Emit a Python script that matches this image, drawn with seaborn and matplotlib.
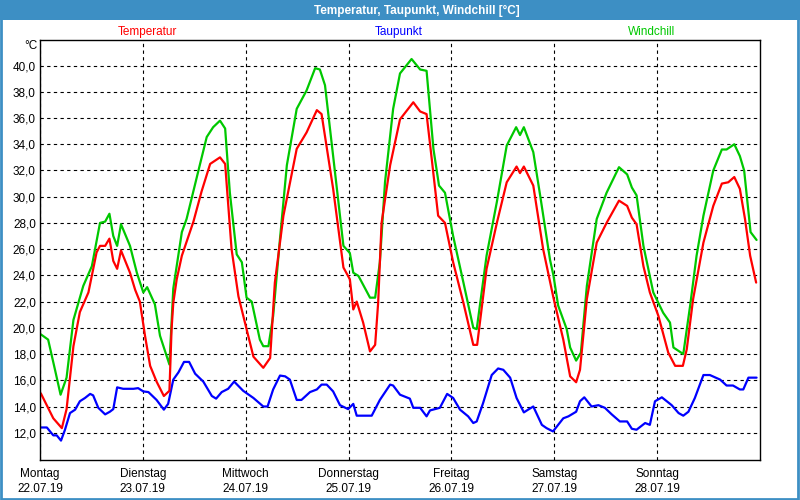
import matplotlib
matplotlib.use("Agg")
import matplotlib.pyplot as plt
import seaborn as sns
import pandas as pd
from matplotlib.patches import Rectangle

# ---------------- data (hours since Mon 22.07.19 00:00) ----------------
temp_hours = [0.2, 3.1, 5.1, 6.2, 7.8, 9.3, 11.3, 13.2, 14.0, 15.2, 16.2, 17.1, 18.0, 18.9,
              21.0, 22.2, 23.3, 24.5, 25.7, 27.2, 28.9, 30.2, 30.7, 31.1, 31.9, 33.1, 35.8,
              37.7, 39.7, 42.0, 43.2, 44.7, 46.3, 48.2, 49.8, 52.1, 53.7, 54.8, 56.8, 59.9,
              62.2, 64.6, 65.7, 68.4, 70.8, 72.3, 73.1, 73.9, 75.4, 77.0, 78.2, 78.9, 79.7,
              81.7, 84.0, 87.1, 88.7, 90.2, 91.4, 92.9, 94.5, 96.4, 98.8, 101.1, 102.0,
              104.2, 106.6, 108.9, 111.2, 112.0, 112.9, 115.1, 117.4, 119.8, 122.1, 123.7,
              125.1, 126.0, 127.6, 129.9, 132.2, 135.1, 137.0, 138.1, 139.2, 140.8, 142.3,
              144.3, 146.6, 148.2, 150.0, 150.9, 152.4, 154.8, 157.1, 159.1, 160.6, 162.0,
              163.3, 164.5, 165.7, 167.1]
temp_values = [15.0, 13.1, 12.35, 13.8, 18.6, 21.2, 22.7, 25.75, 26.25, 26.25, 26.8, 25.1,
               24.5, 25.9, 24.2, 22.9, 22.0, 19.4, 17.1, 15.9, 14.8, 15.2, 19.9, 21.9, 23.7,
               25.5, 28.1, 30.4, 32.5, 33.0, 32.5, 26.0, 22.4, 19.9, 17.8, 16.95, 17.7, 23.45,
               28.55, 33.65, 34.9, 36.6, 36.3, 30.6, 24.6, 23.7, 21.4, 22.0, 20.4, 18.2, 18.7,
               21.9, 28.0, 32.4, 35.9, 37.2, 36.5, 36.3, 32.9, 28.55, 28.0, 25.0, 21.9, 18.7,
               18.7, 24.5, 28.0, 31.1, 32.3, 31.8, 32.3, 30.85, 26.0, 22.3, 19.1, 16.3, 15.85,
               16.8, 22.2, 26.5, 28.0, 29.7, 29.3, 28.4, 27.9, 24.7, 22.7, 20.9, 18.1, 17.1,
               17.1, 18.35, 22.2, 26.5, 29.3, 31.0, 31.1, 31.5, 30.6, 28.3, 25.5, 23.45]

dew_hours = [0.2, 1.6, 3.1, 3.9, 4.9, 5.8, 7.0, 8.2, 9.3, 10.5, 11.7, 12.4, 13.6, 15.2, 16.3,
             17.1, 18.0, 19.4, 21.8, 22.9, 24.1, 25.3, 27.2, 28.9, 29.9, 31.1, 32.3, 33.6,
             34.8, 36.2, 38.1, 40.1, 41.1, 42.4, 43.9, 45.3, 47.4, 49.8, 52.1, 53.1, 54.4,
             56.0, 57.2, 58.3, 59.9, 61.0, 63.0, 64.6, 65.7, 66.9, 68.4, 70.0, 71.9, 73.1,
             73.9, 77.4, 79.3, 81.7, 82.4, 84.0, 86.3, 87.1, 88.7, 90.2, 91.0, 93.3, 95.0,
             96.4, 98.0, 99.9, 101.1, 101.9, 103.4, 105.4, 106.9, 108.1, 109.7, 111.2, 112.9,
             113.9, 115.1, 117.1, 118.2, 119.7, 120.9, 122.1, 123.3, 125.1, 126.0, 127.0,
             128.7, 130.3, 131.8, 133.4, 135.3, 137.0, 138.1, 139.2, 141.2, 142.3, 143.5,
             145.1, 147.4, 149.0, 150.1, 151.3, 152.8, 154.8, 156.3, 158.7, 160.2, 161.7,
             163.3, 164.1, 165.3, 167.2]
dew_values = [12.4, 12.4, 11.8, 11.8, 11.4, 12.2, 13.5, 13.76, 14.4, 14.65, 14.96, 14.85,
              13.9, 13.4, 13.6, 13.8, 15.46, 15.35, 15.35, 15.4, 15.15, 15.1, 14.5, 13.76,
              14.2, 16.05, 16.6, 17.4, 17.4, 16.5, 15.9, 14.8, 14.6, 15.1, 15.35, 15.9, 15.2,
              14.65, 14.0, 14.0, 15.3, 16.36, 16.3, 16.05, 14.5, 14.5, 15.1, 15.3, 15.67,
              15.67, 15.15, 14.1, 13.8, 14.2, 13.3, 13.3, 14.5, 15.67, 15.6, 14.9, 14.6, 13.9,
              13.9, 13.25, 13.7, 13.9, 14.96, 14.65, 13.76, 13.25, 12.74, 12.86, 14.27, 16.4,
              16.9, 16.8, 16.2, 14.65, 13.55, 13.76, 14.0, 12.6, 12.35, 12.1, 12.6, 13.1,
              13.25, 13.6, 14.4, 14.7, 14.0, 14.1, 13.9, 13.4, 12.86, 12.86, 12.3, 12.23,
              12.74, 12.6, 14.4, 14.7, 14.1, 13.5, 13.3, 13.6, 14.65, 16.4, 16.4, 16.05, 15.6,
              15.6, 15.3, 15.3, 16.2, 16.2]

wind_hours = [0.2, 1.9, 3.5, 4.8, 6.2, 7.8, 10.1, 12.1, 14.0, 15.2, 16.2, 17.1, 18.0, 18.9,
              21.0, 22.6, 24.1, 25.0, 26.8, 28.0, 30.2, 31.1, 33.1, 34.2, 36.9, 38.9, 40.4,
              42.0, 43.2, 44.3, 45.9, 47.1, 48.2, 49.4, 51.3, 52.1, 53.3, 54.4, 56.0, 57.6,
              59.9, 62.2, 64.2, 65.3, 66.5, 68.4, 70.8, 72.3, 73.1, 74.3, 77.0, 78.2, 79.3,
              80.5, 82.4, 84.0, 86.7, 88.7, 90.2, 91.8, 93.1, 94.5, 96.4, 98.8, 101.1, 101.9,
              104.2, 106.6, 108.9, 111.1, 112.0, 112.9, 115.1, 116.7, 119.0, 119.8, 120.9,
              122.9, 123.7, 125.1, 126.2, 127.6, 129.9, 132.2, 135.1, 137.0, 138.1, 139.2,
              140.8, 143.1, 145.4, 147.0, 147.8, 150.1, 151.7, 153.2, 154.8, 157.1, 159.1,
              160.2, 162.0, 163.3, 164.3, 165.8, 167.2]
wind_values = [19.5, 19.1, 16.8, 14.9, 16.2, 20.6, 23.2, 24.7, 28.0, 28.1, 28.7, 27.0, 26.25,
               27.9, 26.25, 24.2, 22.7, 23.1, 21.8, 19.4, 17.2, 23.0, 27.3, 28.3, 31.9, 34.55,
               35.3, 35.8, 35.2, 30.3, 25.6, 25.0, 22.3, 22.0, 19.1, 18.6, 18.6, 20.9, 26.8,
               32.4, 36.7, 38.1, 39.8, 39.7, 38.5, 33.1, 26.25, 25.7, 24.2, 23.96, 22.3, 22.3,
               25.0, 31.1, 36.7, 39.4, 40.5, 39.7, 39.6, 33.65, 30.85, 30.3, 27.0, 23.45, 20.0,
               19.9, 25.5, 29.6, 33.9, 35.3, 34.7, 35.3, 33.4, 30.1, 25.2, 24.0, 21.7, 19.9,
               18.5, 17.5, 18.1, 23.2, 28.3, 30.3, 32.25, 31.7, 30.7, 30.1, 26.25, 22.7,
               21.15, 20.4, 18.5, 18.0, 21.7, 25.5, 28.55, 32.0, 33.6, 33.6, 34.0, 33.1, 32.0,
               27.3, 26.7]

series_names = ["Temperatur", "Taupunkt", "Windchill"]
series_colors = ["#ff0000", "#0000ff", "#00c800"]
day_names = ["Montag", "Dienstag", "Mittwoch", "Donnerstag", "Freitag", "Samstag", "Sonntag"]
day_dates = ["22.07.19", "23.07.19", "24.07.19", "25.07.19", "26.07.19", "27.07.19", "28.07.19"]
y_ticks = [12, 14, 16, 18, 20, 22, 24, 26, 28, 30, 32, 34, 36, 38, 40]
title_text = "Temperatur, Taupunkt, Windchill [°C]"
unit_text = "°C"

# ---------------- build table ----------------
df = pd.concat([
    pd.DataFrame({"Stunde": wind_hours, "Wert": wind_values, "Reihe": "Windchill"}),
    pd.DataFrame({"Stunde": dew_hours, "Wert": dew_values, "Reihe": "Taupunkt"}),
    pd.DataFrame({"Stunde": temp_hours, "Wert": temp_values, "Reihe": "Temperatur"}),
], ignore_index=True)

sns.set_theme(style="white")
plt.rcParams['font.family'] = ['Liberation Sans', 'DejaVu Sans']

W, H = 800, 500
fig = plt.figure(figsize=(8, 5), dpi=100, facecolor="white")
ax = fig.add_axes([40 / W, 1 - 460 / H, 720 / W, 420 / H])
ax.set_facecolor("white")

palette = dict(zip(series_names, series_colors))
sns.lineplot(data=df, x="Stunde", y="Wert", hue="Reihe", palette=palette,
             hue_order=["Windchill", "Taupunkt", "Temperatur"],
             estimator=None, linewidth=1.6, legend=False, ax=ax)

ax.set_xlim(0, 168)
ax.set_ylim(9.92, 41.95)
ax.set_xticks([24 * i for i in range(len(day_names))])
ax.set_xticklabels([f"{n}\n{d}" for n, d in zip(day_names, day_dates)],
                   fontsize=8.5, linespacing=1.25)
ax.set_yticks(y_ticks)
ax.set_yticklabels([f"{v:.1f}".replace(".", ",") for v in y_ticks], fontsize=8.5)
ax.tick_params(axis="both", length=0, colors="black")
ax.tick_params(axis="x", pad=6)
ax.tick_params(axis="y", pad=3)
ax.set_xlabel("")
ax.set_ylabel("")
ax.grid(True, color="black", linestyle=(0, (3, 3)), linewidth=0.8)
for s in ax.spines.values():
    s.set_color("black")
    s.set_linewidth(1.0)
    s.set_visible(True)

# title bar and border
bar_col = "#3d8fc4"
fig.add_artist(Rectangle((0, 1 - 20 / H), 1, 20 / H, transform=fig.transFigure,
                         facecolor=bar_col, edgecolor="none", zorder=0))
fig.text(417 / W, 1 - 10.5 / H, title_text, color="white", fontweight="bold",
         fontsize=8.5, ha="center", va="center")
fig.add_artist(Rectangle((0.001, 0.002), 0.997, 0.996, transform=fig.transFigure,
                         fill=False, edgecolor=bar_col, linewidth=2, zorder=10))

# series labels above plot
label_x = [147, 399, 652]
for name, col, lx in zip(series_names, series_colors, label_x):
    fig.text(lx / W, 1 - 32 / H, name, color=col, fontsize=8.5, ha="center", va="center")
fig.text(31 / W, 1 - 46 / H, unit_text, color="black", fontsize=8.5, ha="center", va="center")

fig.savefig("out.png", dpi=100, facecolor="white")
